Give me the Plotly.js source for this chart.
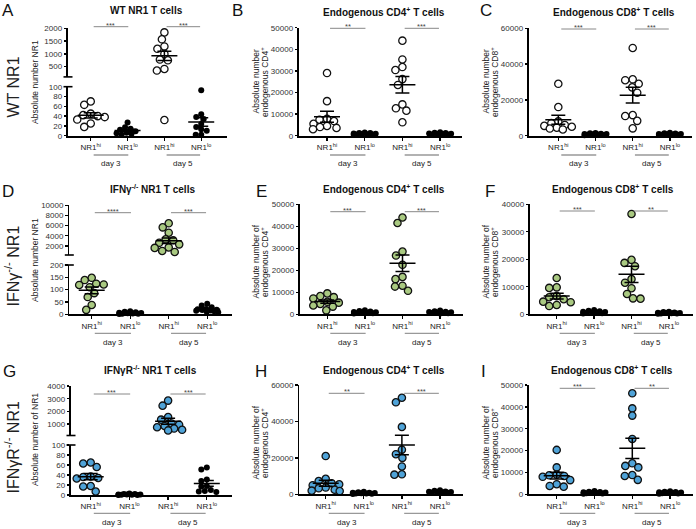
<!DOCTYPE html>
<html><head><meta charset="utf-8">
<script src="https://cdn.plot.ly/plotly-3.0.1.min.js"></script>
<style>html,body{margin:0;padding:0;background:#fff}#chart{width:696px;height:529px}</style>
</head><body><div id="chart"></div>
<script>
// ---------- categories & labels ----------
const categories = ['NR1<sup>hi</sup>','NR1<sup>lo</sup>','NR1<sup>hi</sup>','NR1<sup>lo</sup>'];
const dayLabels = ['day 3','day 5'];
const rowLabels = ['WT NR1','IFNγ<sup>-/-</sup> NR1','IFNγR<sup>-/-</sup> NR1'];
const panelTitles = ['WT NR1 T cells','Endogenous CD4<sup>+</sup> T cells','Endogenous CD8<sup>+</sup> T cells',
  'IFNγ<sup>-/-</sup> NR1 T cells','Endogenous CD4<sup>+</sup> T cells','Endogenous CD8<sup>+</sup> T cells',
  'IFNγR<sup>-/-</sup> NR1 T cells','Endogenous CD4<sup>+</sup> T cells','Endogenous CD8<sup>+</sup> T cells'];
const panelLetters = ['A','B','C','D','E','F','G','H','I'];
const yTitles = [['Absolute number NR1'],['Absolute number','endogenous CD4<sup>+</sup>'],['Absolute number','endogenous CD8<sup>+</sup>'],
  ['Absolute number NR1'],['Absolute number of','endogenous CD4<sup>+</sup>'],['Absolute number of','endogenous CD8<sup>+</sup>'],
  ['Absolute number of NR1'],['Absolute number of','endogenous CD4<sup>+</sup>'],['Absolute number of','endogenous CD8<sup>+</sup>']];
const sigA = ['***','***'], sigB = ['**','***'], sigC = ['***','***'];
const sigD = ['****','***'], sigE = ['***','***'], sigF = ['***','**'];
const sigG = ['***','***'], sigH = ['**','***'], sigI = ['***','**'];

// ---------- data (absolute numbers) ----------
const A_d3_hi = [70, 63, 45, 42, 40, 38, 33, 25, 18];
const A_d3_lo = [27, 17, 14, 12, 9, 6, 5, 4, 2];
const A_d5_hi = [1840, 1570, 1290, 1200, 1000, 780, 750, 410, 350, 32];
const A_d5_lo = [93, 44, 38, 34, 24, 18, 13, 10, 2, 2];

const B_d3_hi = [29000, 16000, 7800, 7400, 6800, 5500, 4500, 4000, 3600, 3000];
const B_d3_lo = [1500, 1300, 1200, 1000, 900, 800, 700, 600, 500, 400];
const B_d5_hi = [44000, 35300, 31800, 30400, 26200, 23500, 14500, 12700, 11600, 6200];
const B_d5_lo = [1600, 1400, 1200, 1000, 900, 800, 700, 600, 500];

const C_d3_hi = [29000, 16000, 8000, 7000, 6000, 5500, 5000, 4500, 4000, 3500];
const C_d3_lo = [1500, 1300, 1100, 1000, 900, 800, 700, 600, 400, 300];
const C_d5_hi = [49000, 31500, 31000, 29000, 27000, 24000, 11500, 11000, 8300, 4100];
const C_d5_lo = [1600, 1400, 1200, 1000, 900, 800, 700, 600, 500, 400];

const D_d3_hi = [148, 139, 124, 121, 119, 110, 86, 70, 38, 18];
const D_d3_lo = [12, 10, 8, 6, 5, 4, 3, 2, 2, 1];
const D_d5_hi = [6450, 5650, 4600, 3300, 3100, 2600, 2300, 1700, 1600, 1000, 800];
const D_d5_lo = [43, 36, 29, 22, 20, 18, 17, 15, 14, 12, 10, 8];

const E_d3_hi = [9500, 8300, 7800, 7200, 5700, 5300, 4700, 4000, 3500, 1800];
const E_d3_lo = [1800, 1500, 1300, 1100, 900, 800, 700, 600, 500, 400];
const E_d5_hi = [44000, 41500, 28500, 26700, 22500, 17000, 16000, 13000, 12600, 10700];
const E_d5_lo = [1700, 1400, 1200, 1000, 900, 800, 700, 600, 500, 400];

const F_d3_hi = [13200, 9800, 9600, 6600, 6200, 5500, 4600, 4400, 3400, 3000];
const F_d3_lo = [1600, 1300, 1100, 900, 800, 700, 600, 500, 400, 300];
const F_d5_hi = [36500, 19800, 18700, 17500, 12800, 11500, 9500, 7400, 5800, 5700];
const F_d5_lo = [900, 800, 700, 600, 500, 500, 400, 300, 300, 200];

const G_d3_hi = [65, 63, 56, 37, 36, 34, 33, 18, 17, 7];
const G_d3_lo = [3, 2, 2, 1, 1, 1, 0.5, 0.5, 0, 0];
const G_d5_hi = [2850, 2450, 1550, 1350, 1050, 950, 850, 750, 650, 550, 500];
const G_d5_lo = [55, 51, 31, 28, 18, 17, 10, 8, 7, 6];

const H_d3_hi = [21000, 8500, 7300, 6000, 5500, 5000, 3700, 3300, 2500, 2000, 1800];
const H_d3_lo = [1400, 1100, 900, 800, 700, 600, 500, 400, 300, 200];
const H_d5_hi = [53000, 50500, 37000, 24500, 22000, 20000, 15300, 11000, 10800];
const H_d5_lo = [2200, 1900, 1600, 1400, 1300, 1200, 1100, 1000, 900, 800];

const I_d3_hi = [20300, 12300, 9000, 8700, 8400, 8000, 6500, 4600, 3800, 3500];
const I_d3_lo = [1500, 1200, 1000, 900, 800, 700, 600, 500, 400, 300];
const I_d5_hi = [46200, 39300, 36000, 25300, 14200, 13000, 12300, 8800, 8400, 6600];
const I_d5_lo = [1400, 1200, 1000, 900, 800, 700, 600, 500, 400, 300];

// ---------- layout geometry (pixels) & styles ----------
const W = 696, H = 529;
const FONT = 'Arial, "Liberation Sans", sans-serif';
const WHITE = '#ffffff', GREEN = '#a9c981', BLUE = '#4fa3d8';
const panels = [
 {g:[A_d3_hi,A_d3_lo,A_d5_hi,A_d5_lo], fill:WHITE, x:[68,227], xr:[0.383,4.70], stars:sigA, sigY:26.7, row:0,
  segs:[{top:86.7,bot:135.7,r:[0,100],t:[0,20,40,60,80,100]},{top:28.3,bot:76.9,r:[100,2000],t:[500,1000,1500,2000]}],
  tx:146,ty:10.3, lx:7.5,ly:11, ytx:[35], yty:82},
 {g:[B_d3_hi,B_d3_lo,B_d5_hi,B_d5_lo], fill:WHITE, x:[299,461.7], xr:[0.257,4.573], stars:sigB, sigY:28.3, row:0,
  segs:[{top:27.7,bot:135.7,r:[0,50000],t:[0,10000,20000,30000,40000,50000]}],
  tx:384,ty:11.7, lx:237.5,ly:11, ytx:[255.5,264], yty:82},
 {g:[C_d3_hi,C_d3_lo,C_d5_hi,C_d5_lo], fill:WHITE, x:[529,691.7], xr:[0.212,4.586], stars:sigC, sigY:29, row:0,
  segs:[{top:28.3,bot:135.7,r:[0,60000],t:[0,20000,40000,60000]}],
  tx:613.7,ty:11.7, lx:486,ly:11, ytx:[485.5,494], yty:82},
 {g:[D_d3_hi,D_d3_lo,D_d5_hi,D_d5_lo], fill:GREEN, x:[69.3,231.7], xr:[0.418,4.636], stars:sigD, sigY:212.7, row:1,
  segs:[{top:265,bot:314.3,r:[0,200],t:[0,50,100,150,200]},{top:205.3,bot:255,r:[200,10000],t:[2000,4000,6000,8000,10000]}],
  tx:152,ty:189, lx:7.5,ly:191.7, ytx:[35], yty:260},
 {g:[E_d3_hi,E_d3_lo,E_d5_hi,E_d5_lo], fill:GREEN, x:[300,463], xr:[0.274,4.609], stars:sigE, sigY:211.7, row:1,
  segs:[{top:204.3,bot:314.3,r:[0,50000],t:[0,10000,20000,30000,40000,50000]}],
  tx:384,ty:189, lx:261,ly:191.7, ytx:[255.5,264], yty:262},
 {g:[F_d3_hi,F_d3_lo,F_d5_hi,F_d5_lo], fill:GREEN, x:[530,693], xr:[0.286,4.644], stars:sigF, sigY:211, row:1,
  segs:[{top:204.3,bot:314.3,r:[0,40000],t:[0,10000,20000,30000,40000]}],
  tx:613,ty:189, lx:490,ly:191.7, ytx:[485.5,494], yty:262},
 {g:[G_d3_hi,G_d3_lo,G_d5_hi,G_d5_lo], fill:BLUE, x:[71,231.7], xr:[0.491,4.643], stars:sigG, sigY:394, row:2,
  segs:[{top:445,bot:495,r:[0,100],t:[0,20,40,60,80,100]},{top:386,bot:435.5,r:[100,4000],t:[1000,2000,3000,4000]}],
  tx:150.7,ty:369.5, lx:9,ly:371, ytx:[35], yty:440},
 {g:[H_d3_hi,H_d3_lo,H_d5_hi,H_d5_lo], fill:BLUE, x:[299.3,463], xr:[0.307,4.604], stars:sigH, sigY:393.3, row:2,
  segs:[{top:385,bot:494.3,r:[0,60000],t:[0,20000,40000,60000]}],
  tx:384,ty:370, lx:261,ly:371, ytx:[255.5,264], yty:443},
 {g:[I_d3_hi,I_d3_lo,I_d5_hi,I_d5_lo], fill:BLUE, x:[529,693], xr:[0.267,4.606], stars:sigI, sigY:388.3, row:2,
  segs:[{top:385,bot:494.3,r:[0,50000],t:[0,10000,20000,30000,40000,50000]}],
  tx:612,ty:370, lx:483.3,ly:371, ytx:[485.5,494], yty:443}
];
const rowGeom = [{lineY:155, dayY:163.3, labelY:87},{lineY:333.3, dayY:342.3, labelY:266},{lineY:513.3, dayY:522.3, labelY:448}];
const positions = [1,2,3,4];
const pairSpans = [[1.08,2.02],[3.06,3.97]];

// ---------- helpers ----------
const mean = a => a.reduce((s,v)=>s+v,0)/a.length;
const sem = a => { const m = mean(a); return Math.sqrt(a.reduce((s,v)=>s+(v-m)*(v-m),0)/(a.length-1)/a.length); };
const px2paperX = p => p/W, px2paperY = p => 1 - p/H;

function segOf(p, v){ if(p.segs.length===1) return 0; return v <= p.segs[0].r[1] ? 0 : 1; }
function pyOf(p, v){ const s = p.segs[segOf(p,v)]; return s.bot - (v - s.r[0])/(s.r[1]-s.r[0])*(s.bot - s.top); }

function swarm(vals, pyFn, D, maxOff){
  const idx = vals.map((v,i)=>i).sort((a,b)=>vals[b]-vals[a]);
  const placed = [], off = new Array(vals.length).fill(0);
  for(const i of idx){
    const y = pyFn(vals[i]);
    let best = 0, bestCost = Infinity;
    for(let o=-maxOff; o<=maxOff+1e-9; o+=0.5){
      let c = Math.abs(o)*0.02;
      for(const q of placed){ const dx=o-q.x, dy=y-q.y; const d=Math.sqrt(dx*dx+dy*dy); if(d<D) c += (D-d)*(D-d); }
      if(c < bestCost-1e-9){ bestCost=c; best=o; }
    }
    placed.push({x:best,y:y}); off[i]=best;
  }
  return off;
}

// ---------- build ----------
const traces = [], layout = {
  width:W, height:H, margin:{l:0,r:0,t:0,b:0}, showlegend:false,
  paper_bgcolor:'#fff', plot_bgcolor:'rgba(0,0,0,0)', font:{family:FONT, color:'#222'},
  annotations:[], shapes:[]
};
let k = 0;
panels.forEach((p, pi) => {
  const spacing = (p.x[1]-p.x[0])/(p.xr[1]-p.xr[0]);
  const toPx = pos => p.x[0] + (pos - p.xr[0])*spacing;
  const offs = p.g.map((vals, gi) => {
    const lo = gi % 2 === 1;
    return swarm(vals, v => pyOf(p, v), lo ? 5.5 : 7.3, lo ? 11 : 14);
  });
  p.segs.forEach((s, si) => {
    k++;
    const xid = k===1 ? 'x' : 'x'+k, yid = k===1 ? 'y' : 'y'+k;
    layout[k===1?'xaxis':'xaxis'+k] = {
      domain:[px2paperX(p.x[0]), px2paperX(p.x[1])], range:p.xr, anchor:yid, visible: si===0,
      showline:true, linecolor:'#000', linewidth:1.8, ticks:'outside', ticklen:3, tickwidth:1.3, tickcolor:'#000',
      tickmode:'array', tickvals:positions, ticktext:categories, tickfont:{size:8, family:FONT, color:'#222'},
      showgrid:false, zeroline:false, fixedrange:true
    };
    layout[k===1?'yaxis':'yaxis'+k] = {
      domain:[px2paperY(s.bot), px2paperY(s.top)], range:s.r, anchor:xid,
      showline:true, linecolor:'#000', linewidth:1.8, ticks:'outside', ticklen:2.5, tickwidth:1.3, tickcolor:'#000',
      tickmode:'array', tickvals:s.t, ticktext:s.t.map(String), tickfont:{size:8, family:FONT, color:'#333'},
      showgrid:false, zeroline:false, fixedrange:true
    };
    p.g.forEach((vals, gi) => {
      const lo = gi % 2 === 1;
      const xs = [], ys = [];
      vals.forEach((v, vi) => { if(segOf(p, v) === si){ xs.push(positions[gi] + offs[gi][vi]/spacing); ys.push(v); } });
      if(!xs.length) return;
      traces.push({type:'scatter', mode:'markers', x:xs, y:ys, xaxis:xid, yaxis:yid, cliponaxis:false, hoverinfo:'skip',
        marker: lo ? {size:6, color:'#000', line:{width:0}} : {size:7.3, color:p.fill, line:{width:1.3, color:'#111'}}});
    });
    const lx = [], ly = [];
    p.g.forEach((vals, gi) => {
      const m = mean(vals), e = sem(vals);
      if(segOf(p, m) !== si) return;
      const c = positions[gi], mw = 13/spacing, cw = 7/spacing;
      lx.push(c-mw, c+mw, null, c, c, null, c-cw, c+cw, null, c-cw, c+cw, null);
      ly.push(m, m, null, m-e, m+e, null, m+e, m+e, null, m-e, m-e, null);
    });
    if(lx.length) traces.push({type:'scatter', mode:'lines', x:lx, y:ly, xaxis:xid, yaxis:yid, cliponaxis:false,
      hoverinfo:'skip', connectgaps:false, line:{color:'#000', width:1.5}});
  });
  if(p.segs.length > 1){
    [p.segs[1].bot, p.segs[0].top].forEach(yy => {
      layout.shapes.push({type:'line', xref:'paper', yref:'paper', x0:px2paperX(p.x[0]-4.5), x1:px2paperX(p.x[0]+4.5),
        y0:px2paperY(yy), y1:px2paperY(yy), line:{color:'#000', width:1.6}});
    });
  }
  const rg = rowGeom[p.row];
  pairSpans.forEach((sp, j) => {
    const a = toPx(sp[0]), b = toPx(sp[1]);
    layout.shapes.push({type:'line', xref:'paper', yref:'paper', x0:px2paperX(a), x1:px2paperX(b),
      y0:px2paperY(p.sigY), y1:px2paperY(p.sigY), line:{color:'#888', width:1}});
    layout.annotations.push({xref:'paper', yref:'paper', x:px2paperX((a+b)/2), y:px2paperY(p.sigY-1.5), text:p.stars[j],
      showarrow:false, xanchor:'center', yanchor:'middle', font:{size:7.5, family:FONT, color:'#444'}});
    layout.shapes.push({type:'line', xref:'paper', yref:'paper', x0:px2paperX(a), x1:px2paperX(b),
      y0:px2paperY(rg.lineY), y1:px2paperY(rg.lineY), line:{color:'#999', width:1.3}});
    layout.annotations.push({xref:'paper', yref:'paper', x:px2paperX((a+b)/2), y:px2paperY(rg.dayY), text:dayLabels[j],
      showarrow:false, xanchor:'center', yanchor:'middle', font:{size:8, family:FONT, color:'#222'}});
  });
  layout.annotations.push({xref:'paper', yref:'paper', x:px2paperX(p.tx), y:px2paperY(p.ty), text:'<b>'+panelTitles[pi]+'</b>',
    showarrow:false, xanchor:'center', yanchor:'middle', font:{size:10, family:FONT, color:'#111'}});
  layout.annotations.push({xref:'paper', yref:'paper', x:px2paperX(p.lx), y:px2paperY(p.ly), text:panelLetters[pi],
    showarrow:false, xanchor:'center', yanchor:'middle', font:{size:17, family:FONT, color:'#111'}});
  yTitles[pi].forEach((t, ti) => {
    layout.annotations.push({xref:'paper', yref:'paper', x:px2paperX(p.ytx[ti]), y:px2paperY(p.yty), text:t, textangle:-90,
      showarrow:false, xanchor:'center', yanchor:'middle', font:{size:8.5, family:FONT, color:'#222'}});
  });
});
rowLabels.forEach((t, ri) => {
  layout.annotations.push({xref:'paper', yref:'paper', x:px2paperX(12.5), y:px2paperY(rowGeom[ri].labelY), text:t, textangle:-90,
    showarrow:false, xanchor:'center', yanchor:'middle', font:{size:16, family:FONT, color:'#222'}});
});

Plotly.newPlot('chart', traces, layout, {staticPlot:true, displayModeBar:false});
</script>
</body></html>
